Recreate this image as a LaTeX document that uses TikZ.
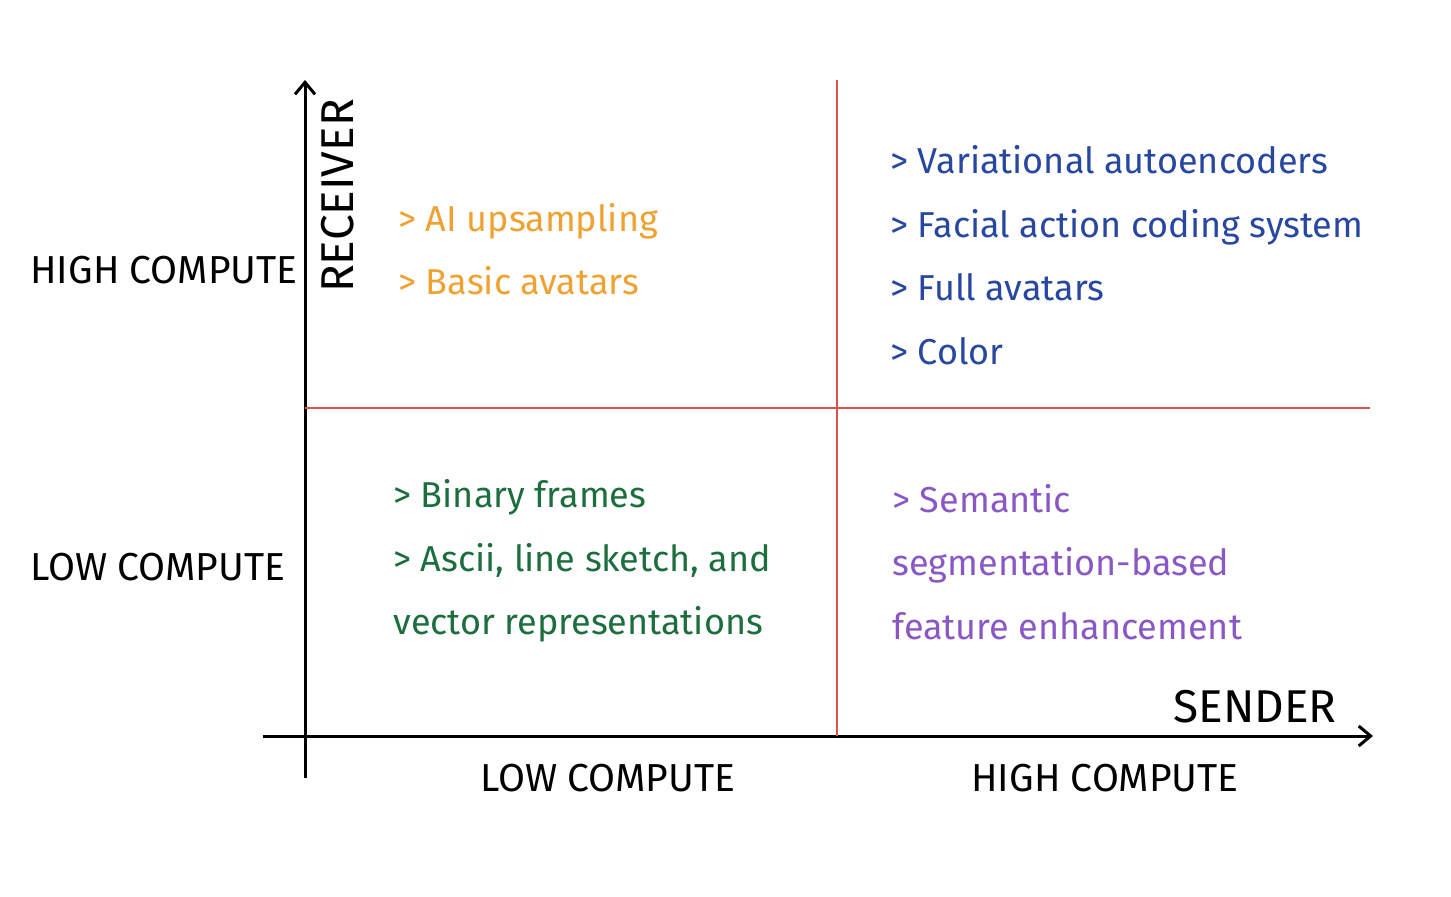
\documentclass[tikz,border=0pt]{standalone}
\usepackage{fontspec}
\setmainfont{Fira Sans}
\usepackage{xcolor}
\usetikzlibrary{arrows.meta}
\definecolor{gridred}{HTML}{D9534F}
\definecolor{itemorange}{HTML}{EFA231}
\definecolor{itemblue}{HTML}{2747A0}
\definecolor{itemgreen}{HTML}{1C6E3E}
\definecolor{itempurple}{HTML}{8A58C6}

\begin{document}
\begin{tikzpicture}[
  x=0.5pt, y=-0.5pt,
  axis/.style={line width=1.5pt, -{Straight Barb[length=6pt, width=10pt, line width=1.5pt]}},
  divider/.style={draw=gridred, line width=0.75pt},
  axislabel/.style={inner sep=0pt, font=\fontsize{19.5}{22}\selectfont},
  axisname/.style={inner sep=0pt, font=\fontsize{23}{26}\selectfont},
  item/.style={anchor=west, align=left, inner sep=0pt, font=\fontsize{18}{31.75}\selectfont}
]
\useasboundingbox (0,0) rectangle (1451,897);

% Axes
\coordinate (ybot) at (305,778);
\coordinate (ytop) at (305,80);
\coordinate (xleft) at (263,736);
\coordinate (xright) at (1373,736);
\draw [axis] (ybot) -- (ytop);
\draw [axis] (xleft) -- (xright);

% Quadrant dividers
\coordinate (vtop) at (837,80);
\coordinate (vbot) at (837,736);
\coordinate (hleft) at (305,408);
\coordinate (hright) at (1370,408);
\draw [divider] (vtop) -- (vbot);
\draw [divider] (hleft) -- (hright);

% Axis labels
\node (receiver) [axisname, rotate=90] at (338,196) {RECEIVER};
\node (sender) [axisname] at (1255,707) {SENDER};
\node (yhigh) [axislabel, anchor=west] at (30,270) {HIGH COMPUTE};
\node (ylow) [axislabel, anchor=west] at (30,567) {LOW COMPUTE};
\node (xlow) [axislabel] at (608,778) {LOW COMPUTE};
\node (xhigh) [axislabel] at (1105,778) {HIGH COMPUTE};

% Quadrant contents
\node (lowhigh) [item, text=itemorange] at (398,249) {> AI upsampling\\> Basic avatars};
\node (highhigh) [item, text=itemblue] at (890,255) {> Variational autoencoders\\> Facial action coding system\\> Full avatars\\> Color};
\node (lowlow) [item, text=itemgreen] at (393,561) {> Binary frames\\> Ascii, line sketch, and\\vector representations};
\node (highlow) [item, text=itempurple] at (892,562) {> Semantic\\segmentation-based\\feature enhancement};
\end{tikzpicture}
\end{document}
